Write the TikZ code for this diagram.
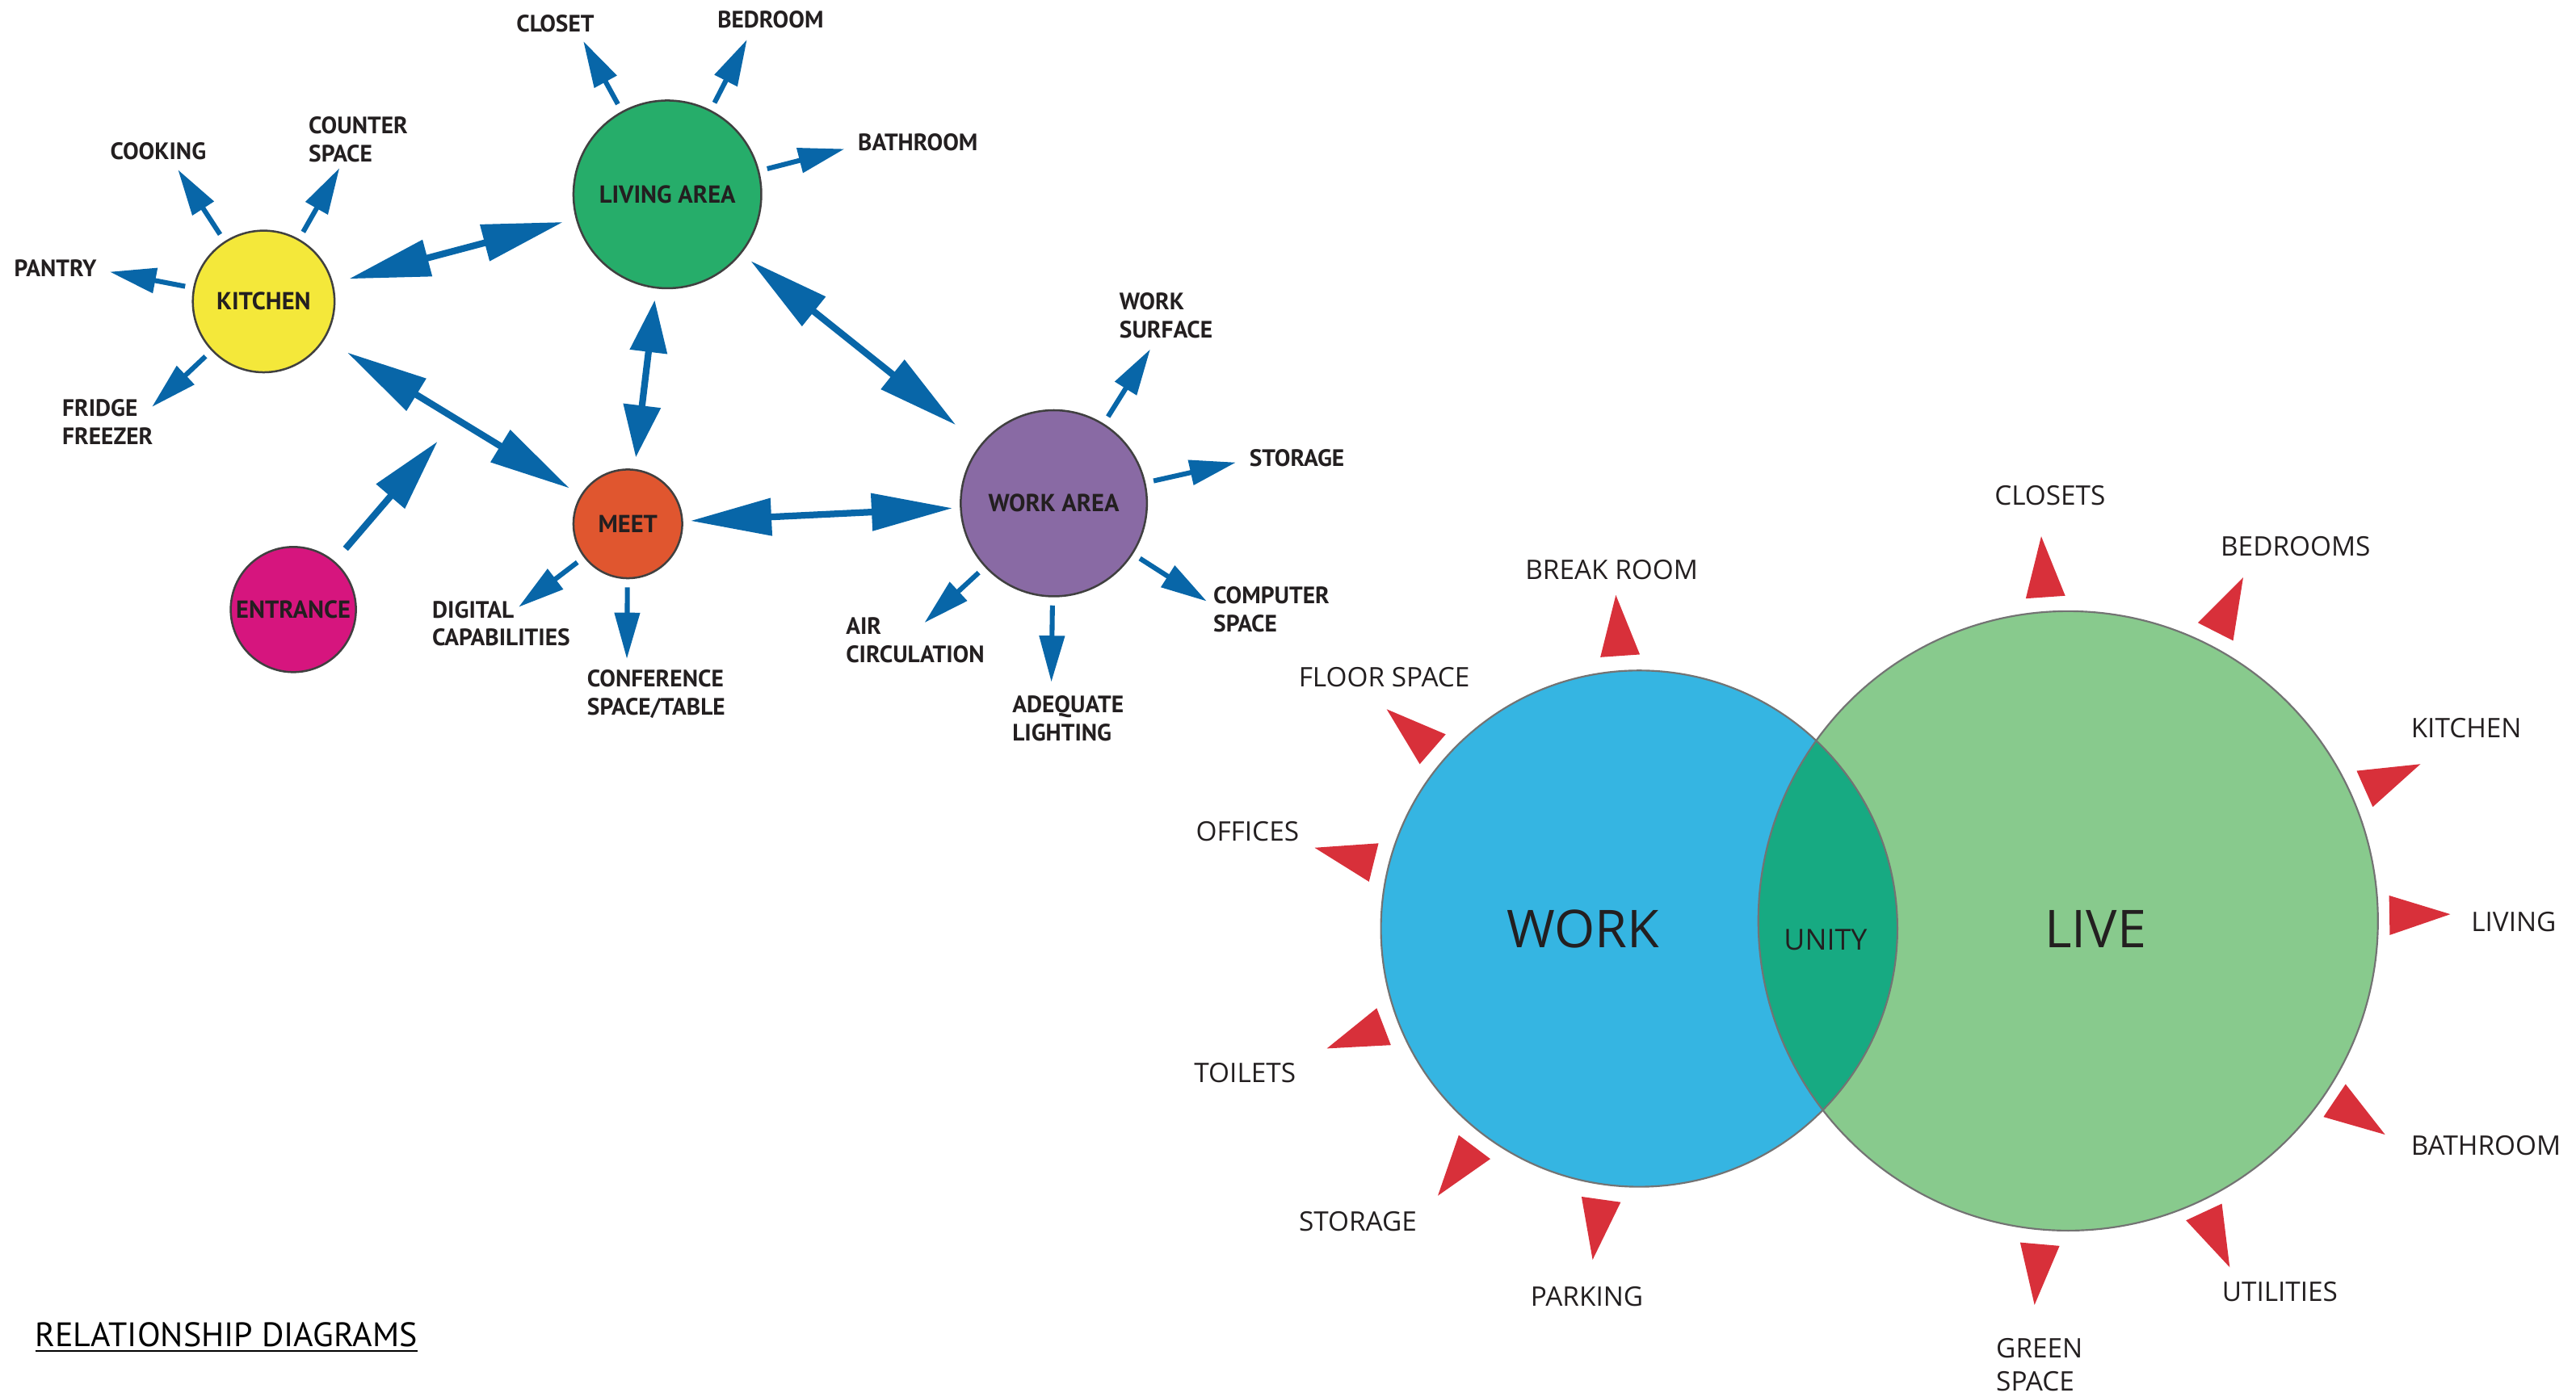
\documentclass[tikz,border=0pt]{standalone}
\usepackage{fontspec}
\setmainfont{PT Sans}
\newfontfamily\vennfont{Open Sans}
\usepackage{xcolor}
\usetikzlibrary{arrows.meta, shapes.geometric, calc}

\definecolor{kitchenyellow}{RGB}{244,232,58}
\definecolor{livinggreen}{RGB}{38,173,106}
\definecolor{meetorange}{RGB}{224,86,47}
\definecolor{entrancepink}{RGB}{214,21,126}
\definecolor{workpurple}{RGB}{137,106,164}
\definecolor{arrowblue}{RGB}{8,102,168}
\definecolor{flagred}{RGB}{216,48,58}
\definecolor{workblue}{RGB}{53,181,226}
\definecolor{livegreen}{RGB}{136,202,141}
\definecolor{unityteal}{RGB}{23,170,130}
\definecolor{inkgrey}{RGB}{35,31,32}

\begin{document}
\begin{tikzpicture}[x=0.02cm, y=-0.02cm]
			\tikzstyle{spacenode}=[
			circle,
			draw=black!75,
			line width=0.7pt,
			inner sep=0pt,
			text=inkgrey,
			font=\fontsize{8.5}{9.5}\selectfont\bfseries
			]
			\tikzstyle{notenode}=[
			inner sep=0pt,
			align=left,
			text=inkgrey,
			font=\fontsize{8.2}{9.7}\selectfont\bfseries
			]
			\tikzstyle{roomnode}=[
			inner sep=0pt,
			align=left,
			text=inkgrey,
			font=\vennfont\fontsize{9.3}{11.5}\selectfont
			]
			\tikzstyle{flagnode}=[
			isosceles triangle,
			isosceles triangle stretches,
			fill=flagred,
			minimum width=0.48cm,
			minimum height=0.74cm,
			inner sep=0pt,
			outer sep=0pt,
			anchor=lower side
			]
			\tikzstyle{linkarrow}=[arrowblue, line width=1.7pt, -{Triangle[length=16pt,width=8.5pt]}]
			\tikzstyle{twoarrow}=[arrowblue, line width=2.3pt, {Triangle[length=28pt,width=12.5pt]}-{Triangle[length=28pt,width=12.5pt]}]
			\tikzstyle{rim}=[draw=black!55, line width=0.6pt]
			\useasboundingbox (0,0) rectangle (1563.2,848);
			%
			\node[spacenode, fill=kitchenyellow, minimum size=1.72cm] (KITCHEN) at (160,183) {KITCHEN};
			\node[spacenode, fill=livinggreen, minimum size=2.28cm] (LIVING) at (405,118) {LIVING AREA};
			\node[spacenode, fill=meetorange, minimum size=1.32cm] (MEET) at (381,318) {MEET};
			\node[spacenode, fill=entrancepink, minimum size=1.52cm] (ENTRANCE) at (178,370) {ENTRANCE};
			\node[spacenode, fill=workpurple, minimum size=2.26cm] (WORKAREA) at (639.5,305.5) {WORK AREA};
			%
			\node[notenode] (COOKING) at (96,92) {COOKING};
			\node[notenode, anchor=west] (COUNTER) at (187,84.5) {COUNTER\\SPACE};
			\node[notenode] (PANTRY) at (33.6,163) {PANTRY};
			\node[notenode, anchor=west] (FRIDGE) at (37.5,256.3) {FRIDGE\\FREEZER};
			\node[notenode] (CLOSET) at (337,14.5) {CLOSET};
			\node[notenode] (BEDROOM) at (467.6,12) {BEDROOM};
			\node[notenode] (BATHROOM) at (557,86.6) {BATHROOM};
			\node[notenode, anchor=west] (SURFACE) at (679,191.6) {WORK\\SURFACE};
			\node[notenode] (STORAGE) at (787,278) {STORAGE};
			\node[notenode, anchor=west] (COMPUTER) at (736,370) {COMPUTER\\SPACE};
			\node[notenode, anchor=west] (LIGHTING) at (614,436) {ADEQUATE\\LIGHTING};
			\node[notenode, anchor=west] (AIR) at (513,388.5) {AIR\\CIRCULATION};
			\node[notenode, anchor=west] (DIGITAL) at (262,378.5) {DIGITAL\\CAPABILITIES};
			\node[notenode, anchor=west] (CONFERENCE) at (356,421.3) {CONFERENCE\\SPACE/TABLE};
			%
			\coordinate (cookingtip) at (108,103);
			\coordinate (countertip) at (206,102);
			\coordinate (pantrytip) at (66.6,165);
			\coordinate (fridgetip) at (92.2,247);
			\coordinate (closettip) at (354,25);
			\coordinate (bedroomtip) at (453.3,24);
			\coordinate (bathroomtip) at (512.5,90.4);
			\coordinate (surfacetip) at (698,212);
			\coordinate (storagetip) at (750,280.7);
			\coordinate (computertip) at (732.3,365);
			\coordinate (lightingtip) at (638,414);
			\coordinate (airtip) at (561,378);
			\coordinate (digitaltip) at (314.7,368.5);
			\coordinate (conferencetip) at (380.4,400);
			\coordinate (entrancetip) at (265.5,268);
			%
			\draw[linkarrow, shorten <=2.8pt] (KITCHEN) -- (cookingtip);
			\draw[linkarrow, shorten <=2.8pt] (KITCHEN) -- (countertip);
			\draw[linkarrow, shorten <=2.8pt] (KITCHEN) -- (pantrytip);
			\draw[linkarrow, shorten <=2.8pt] (KITCHEN) -- (fridgetip);
			\draw[linkarrow, shorten <=2.8pt] (LIVING) -- (closettip);
			\draw[linkarrow, shorten <=2.8pt] (LIVING) -- (bedroomtip);
			\draw[linkarrow, shorten <=2.8pt] (LIVING) -- (bathroomtip);
			\draw[linkarrow, shorten <=2.8pt] (WORKAREA) -- (surfacetip);
			\draw[linkarrow, shorten <=2.8pt] (WORKAREA) -- (storagetip);
			\draw[linkarrow, shorten <=2.8pt] (WORKAREA) -- (computertip);
			\draw[linkarrow, shorten <=2.8pt] (WORKAREA) -- (lightingtip);
			\draw[linkarrow, shorten <=2.8pt] (WORKAREA) -- (airtip);
			\draw[linkarrow, shorten <=2.8pt] (MEET) -- (digitaltip);
			\draw[linkarrow, shorten <=2.8pt] (MEET) -- (conferencetip);
			\draw[arrowblue, line width=2.3pt, -{Triangle[length=25pt,width=12.5pt]}, shorten <=5.7pt] (ENTRANCE) -- (entrancetip);
			%
			\draw[twoarrow, shorten <=5.7pt, shorten >=4.5pt] (KITCHEN) -- (LIVING);
			\draw[twoarrow, shorten <=9pt, shorten >=4.5pt] (KITCHEN) -- (MEET);
			\draw[arrowblue, line width=2.3pt, {Triangle[length=18pt,width=12.5pt]}-{Triangle[length=18pt,width=12.5pt]}, shorten <=4pt, shorten >=4pt] (LIVING) -- (MEET);
			\draw[twoarrow, shorten <=4pt, shorten >=10.8pt] (LIVING) -- (WORKAREA);
			\draw[twoarrow, shorten <=2.5pt, shorten >=2.5pt] (MEET) -- (WORKAREA);
			%
			\coordinate (workc) at (994.7,563.7);
			\coordinate (livec) at (1255,559);
			\fill[workblue] (workc) circle (156.7);
			\fill[livegreen] (livec) circle (188);
			\begin{scope}
				\clip (workc) circle (156.7);
				\fill[unityteal] (livec) circle (188);
			\end{scope}
			\draw[rim] (workc) circle (156.7);
			\draw[rim] (livec) circle (188);
			\node[text=inkgrey, font=\vennfont\fontsize{18}{20}\selectfont] (WORK) at (960.6,564) {WORK};
			\node[text=inkgrey, font=\vennfont\fontsize{18}{20}\selectfont] (LIVE) at (1271.7,564) {LIVE};
			\node[text=inkgrey, font=\vennfont\fontsize{10}{12}\selectfont] (UNITY) at (1107.8,570.5) {UNITY};
			%
			\node[flagnode, rotate=94] (fBREAK) at ($(workc)+(-94:166)$) {};
			\node[flagnode, rotate=139] (fFLOOR) at ($(workc)+(-139:166)$) {};
			\node[flagnode, rotate=166] (fOFFICES) at ($(workc)+(-166:166)$) {};
			\node[flagnode, rotate=201] (fTOILETS) at ($(workc)+(-201:166)$) {};
			\node[flagnode, rotate=233] (fSTORAGE) at ($(workc)+(-233:166)$) {};
			\node[flagnode, rotate=262] (fPARKING) at ($(workc)+(-262:166)$) {};
			\node[flagnode, rotate=94] (fCLOSETS) at ($(livec)+(-94:197)$) {};
			\node[flagnode, rotate=63] (fBEDROOMS) at ($(livec)+(-63:197)$) {};
			\node[flagnode, rotate=24] (fKITCHEN) at ($(livec)+(-24:197)$) {};
			\node[flagnode, rotate=1] (fLIVING) at ($(livec)+(-1:195)$) {};
			\node[flagnode, rotate=-34] (fBATHROOM) at ($(livec)+(34:195)$) {};
			\node[flagnode, rotate=-65] (fUTILITIES) at ($(livec)+(65:195)$) {};
			\node[flagnode, rotate=-95] (fGREEN) at ($(livec)+(95:197)$) {};
			%
			\node[roomnode] (BREAKROOM) at (978,346) {BREAK ROOM};
			\node[roomnode] (FLOORSPACE) at (840,411) {FLOOR SPACE};
			\node[roomnode] (OFFICES) at (757,504.5) {OFFICES};
			\node[roomnode] (TOILETS) at (755.5,651) {TOILETS};
			\node[roomnode] (STORAGEW) at (824,741.5) {STORAGE};
			\node[roomnode] (PARKING) at (963,787) {PARKING};
			\node[roomnode] (CLOSETS) at (1244,301) {CLOSETS};
			\node[roomnode] (BEDROOMS) at (1393,331.5) {BEDROOMS};
			\node[roomnode] (KITCHENL) at (1496.6,442) {KITCHEN};
			\node[roomnode] (LIVINGL) at (1525.4,559.4) {LIVING};
			\node[roomnode] (BATHROOML) at (1508.5,695.6) {BATHROOM};
			\node[roomnode] (UTILITIES) at (1383.5,784) {UTILITIES};
			\node[roomnode, anchor=west] (GREENSPACE) at (1211,828.4) {GREEN\\SPACE};
			%
			\node[anchor=west, inner sep=0pt, text=black, font=\fontsize{11.7}{14}\selectfont] (TITLE) at (21,812) {\underline{RELATIONSHIP DIAGRAMS}};
		\end{tikzpicture}
\end{document}
